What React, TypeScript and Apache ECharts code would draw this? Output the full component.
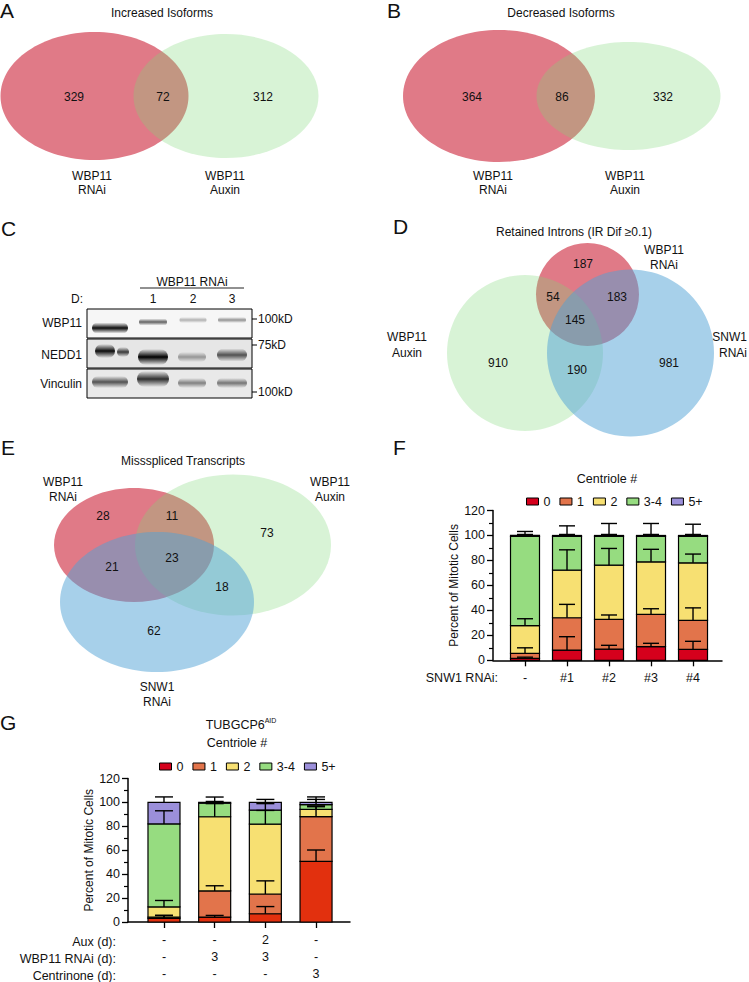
import React, { useEffect, useRef } from 'react';
import * as echarts from 'echarts';

const FONT = '"Liberation Sans", Arial, Helvetica, sans-serif';
const INK = '#111';

// ---------- Panel A / B : two-set Venn counts [set1 only, overlap, set2 only]
const vennATitle = 'Increased Isoforms';
const vennACounts = [329, 72, 312];
const vennBTitle = 'Decreased Isoforms';
const vennBCounts = [364, 86, 332];
const vennABSets = [['WBP11', 'RNAi'], ['WBP11', 'Auxin']];

// ---------- Panel D : [RNAi only, RNAi∩Aux, RNAi∩SNW1, all three, Aux only, Aux∩SNW1, SNW1 only]
const vennDTitle = 'Retained Introns (IR Dif \u22650.1)';
const vennDCounts = [187, 54, 183, 145, 910, 190, 981];

// ---------- Panel E : [RNAi only, RNAi∩Aux, Aux only, RNAi∩SNW1, all three, Aux∩SNW1, SNW1 only]
const vennETitle = 'Missspliced Transcripts';
const vennECounts = [28, 11, 73, 21, 23, 18, 62];

// ---------- Panel C : western blot
const blotHeader = 'WBP11 RNAi';
const blotLanes = ['1', '2', '3'];
const blotRows = ['WBP11', 'NEDD1', 'Vinculin'];
const blotMarkers = ['100kD', '75kD', '100kD'];

// ---------- Panels F / G : centriole counts
const classNames = ['0', '1', '2', '3-4', '5+'];
const classColors = ['#D5001C', '#E2744B', '#F7E072', '#96DC80', '#9B8FDA'];
const gRedBars = '#E2300E';

const fCategories = ['-', '#1', '#2', '#3', '#4'];
const f0 = [1.5, 8.2, 9.0, 10.9, 8.8];
const f1 = [4.1, 25.9, 23.8, 25.9, 23.2];
const f2 = [22.1, 38.1, 43.4, 42.1, 46.1];
const f34 = [71.6, 27.1, 23.1, 20.4, 21.2];
const f5 = [0.7, 0.7, 0.7, 0.7, 0.7];
const f0sd = [1.0, 10.7, 3.0, 2.7, 6.4];
const f1sd = [4.4, 10.7, 3.5, 4.5, 10.0];
const f2sd = [5.6, 16.3, 13.4, 10.0, 7.0];
const f34sd = [1.5, 1.5, 1.5, 1.5, 1.5];
const f5sd = [3.2, 7.7, 9.6, 9.6, 9.0];

const gAux = ['-', '-', '2', '-'];
const gRnai = ['-', '3', '3', '-'];
const gCentrinone = ['-', '-', '-', '3'];
const gRowTitles = ['Aux (d):', 'WBP11 RNAi (d):', 'Centrinone (d):'];
const g0 = [3.0, 4.1, 6.9, 50.7];
const g1 = [1.0, 21.9, 16.5, 37.4];
const g2 = [8.6, 62.0, 58.4, 6.0];
const g34 = [69.4, 11.3, 11.7, 4.1];
const g5 = [18.0, 0.7, 6.5, 1.8];
const g0sd = [2.5, 1.4, 6.0, 9.5];
const g1sd = [1.5, 4.3, 11.0, 8.3];
const g2sd = [5.4, 11.0, 11.5, 3.0];
const g34sd = [11.0, 1.5, 5.5, 4.3];
const g5sd = [4.6, 4.5, 2.5, 4.6];

const yTicksMax = 120;
const yTickStep = 20;

function txt(x: number, y: number, text: string, size = 12, align = 'center', extra: any = {}) {
  return {
    type: 'text',
    x,
    y,
    z: 100,
    silent: true,
    style: { text, fill: INK, fontSize: size, fontFamily: FONT, align, verticalAlign: 'middle', ...extra },
  };
}

function band(cx: number, cy: number, w: number, h: number, k: number) {
  return {
    type: 'rect',
    z: 20,
    silent: true,
    shape: { x: cx - w / 2, y: cy - h / 2, width: w, height: h, r: h / 2 },
    style: {
      fill: {
        type: 'linear', x: 0, y: 0, x2: 0, y2: 1,
        colorStops: [
          { offset: 0, color: 'rgba(0,0,0,0)' },
          { offset: 0.5, color: `rgba(0,0,0,${k})` },
          { offset: 1, color: 'rgba(0,0,0,0)' },
        ],
      },
    },
  };
}

// stacked segments: [index, base, top]
function stackData(vals: number[][], k: number) {
  return vals[k].map((v, i) => {
    let base = 0;
    for (let j = 0; j < k; j++) base += vals[j][i];
    return [i, base, base + v];
  });
}

function errData(vals: number[][], sds: number[][]) {
  const out: number[][] = [];
  const n = vals[0].length;
  for (let i = 0; i < n; i++) {
    let cum = 0;
    for (let k = 0; k < vals.length; k++) {
      cum += vals[k][i];
      out.push([i, cum, cum + sds[k][i]]);
    }
  }
  return out;
}

const RED = '#E07A87';
const GREEN = 'rgba(125,215,118,0.3)';
const BLUE = 'rgba(79,161,213,0.5)';

function buildGraphics() {
  const el: any[] = [];
  // panel letters
  el.push(txt(0, 10, 'A', 21, 'left'));
  el.push(txt(387, 10, 'B', 21, 'left'));
  el.push(txt(1, 228, 'C', 21, 'left'));
  el.push(txt(393, 226, 'D', 21, 'left'));
  el.push(txt(1, 447, 'E', 21, 'left'));
  el.push(txt(393, 447, 'F', 21, 'left'));
  el.push(txt(0, 722, 'G', 21, 'left'));

  // ----- A
  el.push({ type: 'ellipse', z: 10, shape: { cx: 94.5, cy: 96, rx: 94, ry: 64 }, style: { fill: RED } });
  el.push({ type: 'ellipse', z: 11, shape: { cx: 226, cy: 96, rx: 92.5, ry: 62 }, style: { fill: GREEN } });
  el.push(txt(162, 13, vennATitle));
  const aPos = [[74, 97], [163, 97], [263, 97]];
  vennACounts.forEach((c, i) => el.push(txt(aPos[i][0], aPos[i][1], String(c))));
  el.push(txt(92, 176, vennABSets[0][0]), txt(92, 190, vennABSets[0][1]));
  el.push(txt(225, 176, vennABSets[1][0]), txt(225, 190, vennABSets[1][1]));

  // ----- B
  el.push({ type: 'ellipse', z: 10, shape: { cx: 499, cy: 96, rx: 96, ry: 66 }, style: { fill: RED } });
  el.push({ type: 'ellipse', z: 11, shape: { cx: 628.5, cy: 96, rx: 92, ry: 54 }, style: { fill: GREEN } });
  el.push(txt(561, 13, vennBTitle));
  const bPos = [[472, 97], [562, 97], [663, 97]];
  vennBCounts.forEach((c, i) => el.push(txt(bPos[i][0], bPos[i][1], String(c))));
  el.push(txt(493, 176, vennABSets[0][0]), txt(493, 190, vennABSets[0][1]));
  el.push(txt(625, 176, vennABSets[1][0]), txt(625, 190, vennABSets[1][1]));

  // ----- C blot
  el.push(txt(192, 282, blotHeader));
  el.push({ type: 'line', z: 30, shape: { x1: 140, y1: 288, x2: 244, y2: 288 }, style: { stroke: '#222', lineWidth: 1 } });
  el.push(txt(77, 299, 'D:'));
  const laneX = [110, 153, 193, 232];
  blotLanes.forEach((l, i) => el.push(txt(laneX[i + 1], 299, l)));
  const boxes = [[309, 338, '#f6f6f6'], [339, 368, '#e6e6e6'], [369, 398, '#e9e9e9']];
  boxes.forEach((b: any) => {
    el.push({ type: 'rect', z: 15, shape: { x: 87, y: b[0], width: 165, height: b[1] - b[0] }, style: { fill: b[2], stroke: '#000', lineWidth: 1 } });
  });
  const rowY = [323, 355, 384];
  blotRows.forEach((r, i) => el.push(txt(82, rowY[i], r, 12, 'right')));
  const markY = [319, 345, 392];
  blotMarkers.forEach((m, i) => {
    el.push({ type: 'line', z: 30, shape: { x1: 252, y1: markY[i], x2: 257, y2: markY[i] }, style: { stroke: '#000', lineWidth: 1 } });
    el.push(txt(258, markY[i], m, 12, 'left'));
  });
  // WBP11 bands
  el.push(band(110, 328, 36, 11, 0.95), band(153, 322, 28, 7, 0.6), band(193, 320, 27, 6, 0.28), band(232, 320, 28, 6, 0.4));
  // NEDD1 bands
  el.push(band(105, 351, 20, 14, 0.95), band(123, 352, 12, 10, 0.75), band(153, 357, 30, 16, 1.0), band(192, 357, 28, 10, 0.35), band(232, 355, 30, 13, 0.65));
  // Vinculin bands
  el.push(band(110, 382, 36, 12, 0.65), band(153, 379, 32, 16, 0.8), band(192, 383, 28, 10, 0.45), band(232, 383, 30, 10, 0.5));

  // ----- D
  el.push({ type: 'circle', z: 10, shape: { cx: 587.5, cy: 294.5, r: 51.5 }, style: { fill: RED } });
  el.push({ type: 'circle', z: 11, shape: { cx: 525, cy: 353, r: 78 }, style: { fill: GREEN } });
  el.push({ type: 'circle', z: 12, shape: { cx: 630.5, cy: 353, r: 83.5 }, style: { fill: BLUE } });
  el.push(txt(574, 232, vennDTitle));
  const dPos = [[583, 264], [553, 297], [617, 297], [575, 320], [498, 363], [577, 370], [669, 363]];
  vennDCounts.forEach((c, i) => el.push(txt(dPos[i][0], dPos[i][1], String(c))));
  el.push(txt(664, 250, 'WBP11'), txt(664, 265, 'RNAi'));
  el.push(txt(407, 337, 'WBP11'), txt(407, 353, 'Auxin'));
  el.push(txt(747, 337, 'SNW1', 12, 'right'), txt(747, 353, 'RNAi', 12, 'right'));

  // ----- E
  el.push({ type: 'ellipse', z: 10, shape: { cx: 134, cy: 545, rx: 80, ry: 57 }, style: { fill: RED } });
  el.push({ type: 'ellipse', z: 11, shape: { cx: 233, cy: 545, rx: 98, ry: 70.5 }, style: { fill: GREEN } });
  el.push({ type: 'ellipse', z: 12, shape: { cx: 157, cy: 602, rx: 97, ry: 70 }, style: { fill: BLUE } });
  el.push(txt(183, 461, vennETitle));
  const ePos = [[103, 516], [172, 516], [267, 533], [112, 567], [172, 558], [222, 587], [154, 631]];
  vennECounts.forEach((c, i) => el.push(txt(ePos[i][0], ePos[i][1], String(c))));
  el.push(txt(63, 482, 'WBP11'), txt(63, 497, 'RNAi'));
  el.push(txt(330, 482, 'WBP11'), txt(330, 497, 'Auxin'));
  el.push(txt(157, 687, 'SNW1'), txt(157, 702, 'RNAi'));

  // ----- F texts
  el.push(txt(607, 479, 'Centriole #', 12.5));
  el.push(txt(498, 678, 'SNW1 RNAi:', 12.5, 'right'));

  // ----- G texts
  el.push({
    type: 'text', x: 241, y: 725, z: 100,
    style: {
      text: '{a|TUBGCP6}{s|AID}', align: 'center', verticalAlign: 'middle', fill: INK,
      rich: {
        a: { fontSize: 12.5, fontFamily: FONT, fill: INK, lineHeight: 16 },
        s: { fontSize: 7, fontFamily: FONT, fill: INK, verticalAlign: 'top', lineHeight: 16 },
      },
    },
  });
  el.push(txt(237, 743, 'Centriole #', 12.5));
  const rowYs = [942, 958.5, 975.5];
  gRowTitles.forEach((t, i) => el.push(txt(116, rowYs[i], t, 12.5, 'right')));
  return el;
}

function barSeries(name: string, data: number[][], xi: number, width: number, legendColor: string, fillColor: string) {
  return {
    type: 'custom',
    name,
    xAxisIndex: xi,
    yAxisIndex: xi,
    z: 3,
    silent: true,
    encode: { x: 0, y: [1, 2] },
    itemStyle: { color: legendColor, borderColor: '#000', borderWidth: 1.2 },
    data,
    renderItem: (params: any, api: any) => {
      const x = api.value(0);
      const p0 = api.coord([x, api.value(1)]);
      const p1 = api.coord([x, api.value(2)]);
      return {
        type: 'rect',
        shape: { x: p0[0] - width / 2, y: p1[1], width, height: p0[1] - p1[1] },
        style: { fill: fillColor, stroke: '#000', lineWidth: 1.2 },
      };
    },
  };
}

function errSeries(data: number[][], xi: number, cap: number) {
  return {
    type: 'custom',
    xAxisIndex: xi,
    yAxisIndex: xi,
    z: 5,
    silent: true,
    encode: { x: 0, y: [1, 2] },
    data,
    renderItem: (params: any, api: any) => {
      const x = api.value(0);
      const lo = api.coord([x, api.value(1)]);
      const hi = api.coord([x, api.value(2)]);
      const st = { stroke: '#000', lineWidth: 1.4 };
      return {
        type: 'group',
        children: [
          { type: 'line', shape: { x1: lo[0], y1: lo[1], x2: hi[0], y2: hi[1] }, style: st },
          { type: 'line', shape: { x1: hi[0] - cap / 2, y1: hi[1], x2: hi[0] + cap / 2, y2: hi[1] }, style: st },
        ],
      };
    },
  };
}

function yAxisCfg(gi: number) {
  return {
    type: 'value',
    gridIndex: gi,
    min: 0,
    max: yTicksMax,
    interval: yTickStep,
    name: 'Percent of Mitotic Cells',
    nameLocation: 'middle',
    nameGap: 30,
    nameTextStyle: { fontSize: 12, color: INK, fontFamily: FONT },
    axisLine: { show: true, onZero: false, lineStyle: { color: '#000', width: 1.5 } },
    axisTick: { show: true, length: 6, lineStyle: { color: '#000', width: 1.3 } },
    minorTick: { show: true, splitNumber: 2, length: 4, lineStyle: { color: '#000', width: 1.2 } },
    axisLabel: { fontSize: 12.5, color: INK, fontFamily: FONT, margin: 8 },
    splitLine: { show: false },
  };
}

function buildOption() {
  const fVals = [f0, f1, f2, f34, f5];
  const fSds = [f0sd, f1sd, f2sd, f34sd, f5sd];
  const gVals = [g0, g1, g2, g34, g5];
  const gSds = [g0sd, g1sd, g2sd, g34sd, g5sd];
  const series: any[] = [];
  classNames.forEach((name, k) => {
    series.push(barSeries(name, stackData(fVals, k), 0, 29, classColors[k], classColors[k]));
  });
  classNames.forEach((name, k) => {
    series.push(barSeries(name, stackData(gVals, k), 1, 32, classColors[k], k === 0 ? gRedBars : classColors[k]));
  });
  series.push(errSeries(errData(fVals, fSds), 0, 16));
  series.push(errSeries(errData(gVals, gSds), 1, 18));

  const legendBase = {
    data: classNames,
    orient: 'horizontal',
    icon: 'rect',
    itemWidth: 12,
    itemHeight: 7,
    itemGap: 9,
    selectedMode: false,
    itemStyle: { borderColor: '#000', borderWidth: 1 },
    textStyle: { fontSize: 12.5, color: INK, fontFamily: FONT },
  };

  return {
    animation: false,
    backgroundColor: '#fff',
    textStyle: { fontFamily: FONT },
    grid: [
      { left: 493, top: 510.5, width: 229, height: 149.8 },
      { left: 128, top: 778.5, width: 222, height: 145.8 },
    ],
    legend: [
      { ...legendBase, left: 521, top: 490 },
      { ...legendBase, left: 154, top: 755 },
    ],
    xAxis: [
      {
        type: 'value', gridIndex: 0, min: -0.762, max: 4.69,
        axisLine: { show: true, onZero: false, lineStyle: { color: '#000', width: 1.5 } },
        axisTick: { show: true, customValues: [0, 1, 2, 3, 4], length: 6, lineStyle: { color: '#000', width: 1.3 } },
        axisLabel: {
          customValues: [0, 1, 2, 3, 4], margin: 11, fontSize: 12.5, color: INK, fontFamily: FONT,
          formatter: (v: number) => fCategories[Math.round(v)] ?? '',
        },
        splitLine: { show: false },
      },
      {
        type: 'value', gridIndex: 1, min: -0.71, max: 3.67,
        axisLine: { show: true, onZero: false, lineStyle: { color: '#000', width: 1.5 } },
        axisTick: { show: true, customValues: [0, 1, 2, 3], length: 6, lineStyle: { color: '#000', width: 1.3 } },
        axisLabel: {
          customValues: [0, 1, 2, 3], margin: 9, fontSize: 12.5, lineHeight: 17, color: INK, fontFamily: FONT,
          formatter: (v: number) => {
            const i = Math.round(v);
            return `${gAux[i]}\n${gRnai[i]}\n${gCentrinone[i]}`;
          },
        },
        splitLine: { show: false },
      },
    ],
    yAxis: [yAxisCfg(0), yAxisCfg(1)],
    series,
    graphic: { elements: buildGraphics() },
  };
}

export default function App() {
  const ref = useRef<HTMLDivElement>(null);
  useEffect(() => {
    if (!ref.current) return;
    const chart = echarts.init(ref.current, undefined, { renderer: 'svg' });
    chart.setOption(buildOption() as any);
    return () => chart.dispose();
  }, []);
  return (
    <div
      ref={ref}
      style={{ position: 'absolute', left: 0, top: 0, width: 749, height: 982, background: '#fff' }}
    />
  );
}
